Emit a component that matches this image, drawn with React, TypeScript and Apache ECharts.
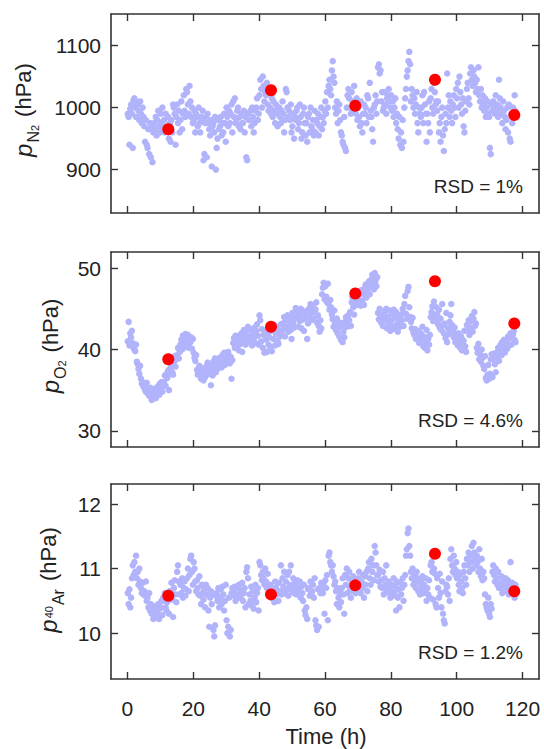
import React, { useEffect, useRef } from "react";
import * as echarts from "echarts";

// ---- data -------------------------------------------------------------
// Each row = one hour (row index = hour), four readings within that hour.
const SAMPLE_OFFSETS = [0.1, 0.35, 0.6, 0.85];

const N2_VALUES: number[][] = [
  [990, 985, 940, 998], [1005, 990, 935, 1012], [1015, 1000, 985, 1008], [1005, 995, 980, 1010],
  [990, 975, 1000, 985], [970, 945, 980, 940], [935, 965, 925, 975], [920, 970, 912, 960],
  [975, 965, 985, 955], [980, 995, 970, 960], [990, 975, 1000, 965], [980, 960, 990, 970],
  [965, 985, 950, 975], [945, 980, 960, 1005], [1000, 990, 940, 985], [1005, 975, 995, 960],
  [980, 1010, 965, 990], [1020, 995, 985, 1030], [1025, 1005, 990, 1035], [1010, 985, 1000, 975],
  [980, 995, 960, 990], [985, 970, 1000, 975], [960, 985, 980, 995], [915, 925, 975, 985],
  [920, 990, 975, 965], [955, 980, 905, 970], [975, 960, 985, 900], [935, 950, 980, 965],
  [970, 985, 955, 975], [960, 990, 975, 945], [1000, 985, 970, 995], [975, 990, 1005, 960],
  [1010, 985, 1015, 975], [980, 995, 1000, 970], [985, 965, 990, 975], [975, 995, 960, 985],
  [920, 915, 990, 980], [980, 995, 970, 1000], [985, 960, 975, 995], [1000, 1015, 980, 990],
  [1020, 1045, 1030, 1000], [1050, 1035, 1010, 1025], [1020, 1040, 1005, 995], [1030, 1000, 990, 1015],
  [985, 1010, 995, 975], [1005, 990, 970, 1000], [1000, 985, 975, 995], [1010, 990, 960, 980],
  [1030, 1025, 1000, 985], [995, 980, 1005, 960], [970, 990, 950, 985], [980, 995, 1000, 965],
  [975, 1005, 985, 950], [960, 990, 1000, 975], [955, 975, 945, 985], [990, 960, 1000, 970],
  [965, 980, 955, 995], [960, 980, 975, 990], [955, 970, 985, 1000], [965, 985, 975, 995],
  [1010, 990, 1025, 1000], [1035, 1045, 1030, 1020], [1060, 1075, 1050, 1040], [1000, 990, 1010, 975],
  [995, 1005, 980, 960], [955, 945, 940, 985], [935, 930, 1000, 1020], [1030, 1015, 1000, 990],
  [1025, 1010, 995, 1035], [1005, 990, 1015, 980], [1000, 985, 970, 1010], [975, 960, 990, 1005],
  [990, 1000, 975, 1020], [1015, 985, 1040, 995], [985, 965, 945, 1000], [1005, 1020, 990, 1010],
  [1065, 1070, 1055, 1060], [1010, 1025, 995, 1000], [1025, 1005, 990, 1015], [1020, 1030, 1010, 1000],
  [1020, 995, 1010, 985], [1000, 1015, 975, 990], [965, 950, 985, 940], [960, 935, 980, 945],
  [1000, 1015, 1030, 1050], [1060, 1075, 1090, 1070], [1010, 1030, 1020, 1000], [1015, 990, 1005, 1025],
  [975, 960, 1000, 990], [985, 1000, 1020, 975], [1025, 1005, 990, 945], [990, 975, 1010, 960],
  [1015, 1030, 1000, 990], [1040, 1025, 1005, 1010], [995, 1010, 960, 975], [945, 985, 1000, 955],
  [930, 965, 990, 975], [1055, 1000, 1020, 985], [1010, 995, 975, 1005], [1020, 1000, 985, 1030],
  [1015, 1040, 1000, 1050], [1025, 1005, 990, 1015], [970, 960, 995, 1010], [1030, 1040, 1015, 1005],
  [1055, 1065, 1045, 1035], [1060, 1050, 1040, 1025], [1045, 1030, 1065, 1020], [1010, 1030, 1000, 1020],
  [1005, 995, 1015, 985], [1000, 1010, 990, 985], [935, 925, 1005, 995], [1010, 1000, 990, 1020],
  [995, 1005, 985, 1045], [1015, 1000, 990, 975], [1010, 995, 985, 965], [980, 1000, 960, 1005],
  [950, 945, 990, 975], [1000, 985, 1020, 995],
];

const O2_VALUES: number[][] = [
  [41.0, 43.4, 40.5, 42.0], [41.5, 42.3, 40.8, 40.2], [40.0, 39.8, 40.6, 38.5], [38.2, 37.6, 37.0, 38.0],
  [36.4, 35.8, 36.0, 35.4], [35.5, 35.0, 34.8, 35.9], [34.6, 34.9, 34.3, 35.3], [34.2, 33.8, 34.6, 34.0],
  [34.5, 35.2, 34.0, 34.9], [35.0, 35.5, 34.4, 35.8], [35.3, 36.0, 34.8, 35.6], [36.0, 36.8, 35.5, 37.0],
  [36.5, 37.4, 35.0, 37.0], [37.8, 38.3, 37.2, 36.9], [38.5, 39.2, 37.9, 38.8], [39.3, 40.2, 38.9, 39.7],
  [40.6, 41.2, 40.0, 41.7], [41.5, 40.8, 41.9, 40.3], [41.2, 41.8, 40.7, 40.2], [40.9, 41.5, 40.1, 41.3],
  [39.6, 39.0, 38.6, 39.3], [37.5, 36.9, 37.3, 38.0], [37.0, 36.4, 37.6, 36.7], [36.2, 37.3, 36.6, 37.9],
  [37.8, 38.4, 37.0, 38.1], [37.4, 35.6, 38.0, 36.8], [38.5, 37.7, 38.9, 37.2], [38.2, 37.6, 38.8, 37.9],
  [39.0, 38.4, 37.8, 39.3], [38.6, 39.6, 38.1, 39.2], [39.4, 38.8, 39.7, 39.0], [38.3, 39.1, 36.4, 38.7],
  [40.8, 41.4, 40.2, 41.7], [41.0, 40.4, 41.6, 39.9], [41.3, 40.7, 42.0, 39.7], [41.8, 42.4, 41.2, 40.6],
  [42.2, 41.4, 42.8, 40.9], [41.6, 42.5, 41.0, 40.5], [42.0, 41.3, 42.7, 40.8], [42.3, 43.1, 41.7, 40.6],
  [44.2, 43.6, 41.0, 42.5], [40.2, 41.8, 39.6, 42.2], [41.2, 39.7, 42.0, 40.6], [41.5, 40.3, 42.3, 39.8],
  [42.6, 41.3, 43.0, 40.5], [41.9, 42.8, 41.0, 40.7], [42.3, 41.6, 43.1, 42.0], [43.2, 42.5, 44.0, 41.6],
  [43.6, 42.8, 44.2, 42.2], [43.0, 43.8, 42.4, 41.3], [44.5, 43.3, 42.7, 44.0], [45.1, 43.9, 44.6, 42.8],
  [44.2, 43.5, 45.0, 42.6], [44.8, 43.7, 42.3, 44.4], [43.9, 44.7, 41.3, 43.2], [45.0, 44.2, 45.6, 43.6],
  [45.4, 44.6, 43.8, 45.0], [44.9, 45.8, 43.3, 44.2], [42.9, 42.2, 43.6, 42.6], [46.8, 47.6, 48.2, 46.2],
  [47.8, 46.5, 45.8, 48.1], [45.6, 44.9, 46.1, 45.2], [44.3, 43.7, 42.8, 44.8], [43.2, 42.4, 43.8, 42.0],
  [42.7, 41.6, 43.3, 41.2], [42.9, 40.9, 42.2, 41.5], [43.4, 44.0, 42.8, 43.0], [44.2, 43.6, 44.6, 42.9],
  [45.8, 46.4, 45.2, 44.3], [46.0, 47.0, 45.5, 46.6], [46.3, 45.7, 47.2, 45.4], [47.3, 46.0, 46.8, 45.5],
  [47.6, 48.0, 46.4, 47.0], [47.5, 48.4, 46.8, 47.9], [48.6, 49.2, 48.0, 47.4], [49.4, 48.5, 47.8, 48.9],
  [44.5, 43.7, 45.0, 44.0], [43.3, 44.2, 42.9, 43.6], [44.6, 43.8, 45.0, 42.6], [44.0, 43.2, 44.8, 42.3],
  [43.5, 44.4, 42.8, 44.9], [43.9, 42.5, 44.6, 43.1], [42.2, 43.4, 44.0, 42.8], [44.3, 43.6, 45.0, 42.9],
  [45.6, 46.6, 44.4, 43.8], [47.2, 47.7, 45.2, 44.0], [43.4, 42.6, 43.9, 42.1], [41.8, 42.5, 41.3, 42.0],
  [41.5, 42.3, 40.8, 41.9], [42.0, 41.2, 42.8, 40.4], [41.6, 40.2, 41.0, 42.4], [39.9, 41.3, 40.6, 41.8],
  [44.0, 44.6, 45.3, 43.5], [45.9, 44.2, 43.6, 45.2], [44.4, 43.1, 44.9, 42.7], [43.8, 42.4, 45.6, 43.0],
  [42.0, 43.2, 41.4, 44.5], [40.9, 42.6, 41.9, 43.4], [44.2, 45.6, 43.0, 42.2], [41.5, 42.7, 40.9, 41.9],
  [41.3, 40.5, 42.0, 41.0], [40.2, 41.6, 39.9, 40.8], [41.1, 42.3, 40.4, 39.7], [43.0, 42.4, 43.6, 41.8],
  [43.5, 42.7, 44.1, 42.2], [43.8, 44.6, 42.9, 43.2], [40.2, 39.6, 40.7, 38.8], [39.4, 38.5, 40.0, 39.0],
  [38.0, 37.6, 39.2, 36.5], [36.2, 36.9, 38.1, 36.4], [37.0, 38.8, 39.4, 36.6], [38.9, 39.5, 38.2, 37.2],
  [39.6, 39.0, 40.2, 38.6], [39.8, 40.6, 39.3, 40.9], [40.3, 41.2, 39.6, 40.8], [41.0, 40.1, 41.6, 40.5],
  [41.4, 42.0, 40.6, 41.8], [41.9, 42.3, 41.2, 40.9],
];

const AR_VALUES: number[][] = [
  [10.62, 10.45, 10.68, 10.40], [10.55, 10.85, 11.05, 10.90], [11.10, 10.95, 11.20, 10.85], [10.95, 10.75, 11.00, 10.80],
  [10.70, 10.62, 10.78, 10.60], [10.65, 10.58, 10.80, 10.50], [10.55, 10.40, 10.62, 10.35], [10.45, 10.30, 10.38, 10.22],
  [10.35, 10.25, 10.42, 10.28], [10.30, 10.45, 10.22, 10.38], [10.40, 10.50, 10.28, 10.55], [10.50, 10.62, 10.40, 10.35],
  [10.48, 10.58, 10.30, 10.65], [10.65, 10.78, 10.52, 10.25], [10.70, 10.82, 10.60, 10.48], [10.95, 11.05, 10.80, 10.60],
  [10.75, 10.62, 10.85, 10.55], [10.70, 10.80, 10.58, 10.68], [10.85, 11.00, 10.65, 10.90], [11.15, 11.20, 10.95, 10.75],
  [11.10, 11.00, 10.80, 10.65], [10.82, 10.70, 10.60, 10.88], [10.58, 10.45, 10.75, 10.62], [10.52, 10.68, 10.40, 10.75],
  [10.60, 10.70, 10.35, 10.10], [10.55, 10.65, 10.45, 10.62], [10.05, 9.95, 10.12, 10.58], [10.62, 10.50, 10.70, 10.40],
  [10.55, 10.68, 10.45, 10.72], [10.60, 10.35, 10.50, 10.75], [10.20, 10.00, 10.10, 10.55], [9.95, 10.05, 10.62, 10.70],
  [10.65, 10.58, 10.72, 10.50], [10.60, 10.70, 10.55, 10.75], [10.68, 10.55, 10.62, 10.78], [10.50, 10.62, 10.70, 10.40],
  [10.95, 11.02, 10.85, 10.45], [10.60, 10.50, 10.72, 10.42], [10.65, 10.38, 10.55, 10.75], [10.48, 10.62, 10.70, 10.35],
  [11.10, 11.05, 10.90, 10.82], [10.95, 10.85, 10.75, 11.00], [10.80, 10.70, 10.92, 10.62], [10.62, 10.75, 10.55, 10.68],
  [10.55, 10.70, 10.48, 10.80], [10.70, 10.60, 10.78, 10.50], [10.78, 10.65, 11.05, 10.60], [10.85, 10.72, 10.95, 10.62],
  [10.80, 10.68, 10.90, 10.58], [10.95, 10.75, 11.05, 10.65], [10.70, 10.85, 10.62, 10.78], [10.75, 10.60, 10.82, 10.68],
  [10.65, 10.80, 10.55, 10.72], [10.62, 10.50, 10.75, 10.35], [10.28, 10.40, 10.22, 10.68], [10.70, 10.58, 10.80, 10.62],
  [10.65, 10.75, 10.55, 10.85], [10.20, 10.12, 10.05, 10.68], [10.10, 10.70, 10.62, 10.78], [10.70, 10.62, 10.78, 10.30],
  [10.82, 10.70, 10.90, 10.20], [11.20, 11.25, 11.10, 11.05], [10.95, 11.05, 10.88, 10.75], [10.80, 10.65, 10.45, 10.70],
  [10.55, 10.40, 10.62, 10.48], [10.70, 10.85, 10.60, 10.30], [10.90, 10.75, 11.00, 10.62], [10.85, 10.95, 10.70, 10.55],
  [10.80, 10.65, 10.88, 10.72], [10.70, 10.62, 10.78, 10.82], [10.85, 10.95, 10.75, 10.62], [10.80, 10.70, 10.90, 10.55],
  [10.88, 10.75, 10.95, 10.65], [11.00, 11.10, 10.85, 10.75], [11.15, 10.95, 11.05, 10.82], [11.35, 11.25, 11.05, 10.90],
  [10.90, 10.80, 10.98, 10.72], [10.82, 10.70, 10.95, 10.60], [10.85, 10.75, 11.05, 10.65], [10.70, 10.80, 10.62, 10.55],
  [10.65, 10.75, 10.58, 10.85], [10.62, 10.72, 10.35, 10.80], [10.55, 10.68, 10.40, 10.78], [10.60, 10.70, 10.85, 10.50],
  [10.75, 10.90, 11.20, 11.30], [11.55, 11.62, 11.35, 11.20], [10.95, 10.85, 11.00, 10.75], [10.90, 10.80, 10.70, 10.95],
  [10.85, 10.65, 10.78, 10.60], [10.80, 10.70, 10.88, 10.62], [10.75, 10.65, 10.85, 10.50], [10.70, 10.60, 10.82, 10.55],
  [11.05, 11.10, 10.95, 10.52], [11.00, 10.92, 10.45, 10.40], [10.85, 10.70, 10.55, 10.92], [10.62, 10.40, 10.80, 10.30],
  [10.20, 10.15, 10.65, 10.75], [10.72, 10.60, 10.85, 10.50], [11.15, 11.30, 11.05, 10.95], [11.20, 11.00, 10.90, 11.10],
  [10.85, 10.95, 10.75, 10.65], [10.90, 10.80, 10.70, 10.62], [10.95, 11.05, 10.85, 10.75], [11.15, 11.05, 11.25, 10.95],
  [11.20, 11.10, 11.35, 11.00], [11.40, 11.25, 11.15, 11.05], [11.20, 11.10, 10.95, 11.30], [11.00, 10.88, 11.15, 10.82],
  [10.95, 10.85, 10.60, 10.45], [10.40, 10.35, 10.55, 10.30], [10.25, 10.45, 10.38, 10.95], [11.05, 10.90, 10.80, 11.00],
  [10.85, 10.75, 10.95, 10.70], [10.78, 10.70, 10.88, 10.62], [10.80, 10.72, 10.65, 10.85], [10.75, 10.68, 10.82, 10.60],
  [10.72, 11.10, 10.65, 10.78], [10.70, 10.62, 10.55, 10.75],
];

const RED_TIMES = [12.4, 43.6, 69.2, 93.4, 117.5];
const N2_RED = [965, 1028, 1003, 1045, 988];
const O2_RED = [38.8, 42.8, 46.9, 48.4, 43.2];
const AR_RED = [10.58, 10.6, 10.74, 11.23, 10.65];

const X_TICKS = [0, 20, 40, 60, 80, 100, 120];
const N2_TICKS = [900, 1000, 1100];
const O2_TICKS = [30, 40, 50];
const AR_TICKS = [10, 11, 12];

const RSD_LABELS = ["RSD = 1%", "RSD = 4.6%", "RSD = 1.2%"];

// ---- styling / layout --------------------------------------------------
const FONT = "'Liberation Sans', Arial, Helvetica, sans-serif";
const AXIS_COLOR = "#333333";
const TEXT_COLOR = "#222222";
const BLUE = "#b1b3fb";
const RED = "#ff0000";

const GRID_LEFT = 111;
const GRID_WIDTH = 428;
const PANELS = [
  { top: 14, height: 199, min: 830, max: 1151, ticks: N2_TICKS, values: N2_VALUES, red: N2_RED },
  { top: 252, height: 195, min: 28, max: 52, ticks: O2_TICKS, values: O2_VALUES, red: O2_RED },
  { top: 484, height: 195, min: 9.29, max: 12.31, ticks: AR_TICKS, values: AR_VALUES, red: AR_RED },
];

function toPoints(rows: number[][]): number[][] {
  const pts: number[][] = [];
  rows.forEach((row, hour) => {
    row.forEach((v, k) => pts.push([hour + SAMPLE_OFFSETS[k], v]));
  });
  return pts;
}

const plain = (v: number) => String(v);

function xAxis(grid: number, position: "top" | "bottom", labels: boolean) {
  return {
    type: "value",
    gridIndex: grid,
    position,
    min: -5,
    max: 125,
    axisLine: { show: true, onZero: false, lineStyle: { color: AXIS_COLOR, width: 1.6 } },
    axisTick: { show: true, inside: true, length: 7, customValues: X_TICKS, lineStyle: { color: AXIS_COLOR, width: 1.4 } },
    axisLabel: { show: labels, customValues: X_TICKS, formatter: plain, margin: 19, fontSize: 21, color: TEXT_COLOR, fontFamily: FONT },
    splitLine: { show: false },
  };
}

function yAxis(grid: number, position: "left" | "right", p: any, labels: boolean) {
  return {
    type: "value",
    gridIndex: grid,
    position,
    min: p.min,
    max: p.max,
    axisLine: { show: true, onZero: false, lineStyle: { color: AXIS_COLOR, width: 1.6 } },
    axisTick: { show: true, inside: true, length: 7, customValues: p.ticks, lineStyle: { color: AXIS_COLOR, width: 1.4 } },
    axisLabel: { show: labels, customValues: p.ticks, formatter: plain, margin: 10, fontSize: 21, color: TEXT_COLOR, fontFamily: FONT },
    splitLine: { show: false },
  };
}

const richBase = {
  p: { fontSize: 24, fontStyle: "italic", fontFamily: FONT, fill: TEXT_COLOR },
  u: { fontSize: 22, fontFamily: FONT, fill: TEXT_COLOR, padding: [0, 0, 0, 8] },
  sub: { fontSize: 16, fontFamily: FONT, fill: TEXT_COLOR, padding: [20, 0, 0, 1] },
  subsub: { fontSize: 11, fontFamily: FONT, fill: TEXT_COLOR, padding: [24, 0, 0, 0] },
  sup: { fontSize: 11, fontFamily: FONT, fill: TEXT_COLOR, padding: [2, 0, 0, 1] },
};

const Y_TITLES = [
  { text: "{p|p}{sub|N}{subsub|2}{u|(hPa)}", x: 23, y: 110 },
  { text: "{p|p}{sub|O}{subsub|2}{u|(hPa)}", x: 50, y: 346 },
  { text: "{p|p}{sup|40}{sub|Ar}{u|(hPa)}", x: 48, y: 580 },
];

export default function App() {
  const ref = useRef<HTMLDivElement>(null);

  useEffect(() => {
    if (!ref.current) return;
    const chart = echarts.init(ref.current, undefined, { renderer: "svg" });

    const grids = PANELS.map((p) => ({ left: GRID_LEFT, width: GRID_WIDTH, top: p.top, height: p.height, containLabel: false }));
    const xAxes: any[] = [];
    const yAxes: any[] = [];
    const series: any[] = [];
    PANELS.forEach((p, g) => {
      xAxes.push(xAxis(g, "bottom", g === 2));
      xAxes.push(xAxis(g, "top", false));
      yAxes.push(yAxis(g, "left", p, true));
      yAxes.push(yAxis(g, "right", p, false));
      series.push({
        type: "scatter",
        xAxisIndex: 2 * g,
        yAxisIndex: 2 * g,
        symbolSize: 6.5,
        itemStyle: { color: BLUE, opacity: 1 },
        data: toPoints(p.values),
        z: 2,
        silent: true,
      });
      series.push({
        type: "scatter",
        xAxisIndex: 2 * g,
        yAxisIndex: 2 * g,
        symbolSize: 12,
        itemStyle: { color: RED, opacity: 1 },
        data: RED_TIMES.map((t, i) => [t, p.red[i]]),
        z: 3,
        silent: true,
      });
    });

    const graphics: any[] = [];
    PANELS.forEach((p, g) => {
      graphics.push({
        type: "text",
        x: 523,
        y: p.top + p.height - 27,
        style: { text: RSD_LABELS[g], fontSize: 19, fontFamily: FONT, fill: TEXT_COLOR, align: "right", verticalAlign: "middle" },
      });
      const t = Y_TITLES[g];
      graphics.push({
        type: "text",
        x: t.x,
        y: t.y,
        rotation: Math.PI / 2,
        style: { text: t.text, rich: richBase, align: "center", verticalAlign: "middle", fill: TEXT_COLOR, fontFamily: FONT },
      });
    });
    graphics.push({
      type: "text",
      x: GRID_LEFT + GRID_WIDTH / 2 + 1,
      y: 736,
      style: { text: "Time (h)", fontSize: 22, fontFamily: FONT, fill: TEXT_COLOR, align: "center", verticalAlign: "middle" },
    });

    chart.setOption({
      animation: false,
      backgroundColor: "#ffffff",
      grid: grids,
      xAxis: xAxes,
      yAxis: yAxes,
      series,
      graphic: graphics,
    });

    return () => chart.dispose();
  }, []);

  return <div ref={ref} style={{ position: "absolute", left: 0, top: 0, width: 544, height: 749 }} />;
}
